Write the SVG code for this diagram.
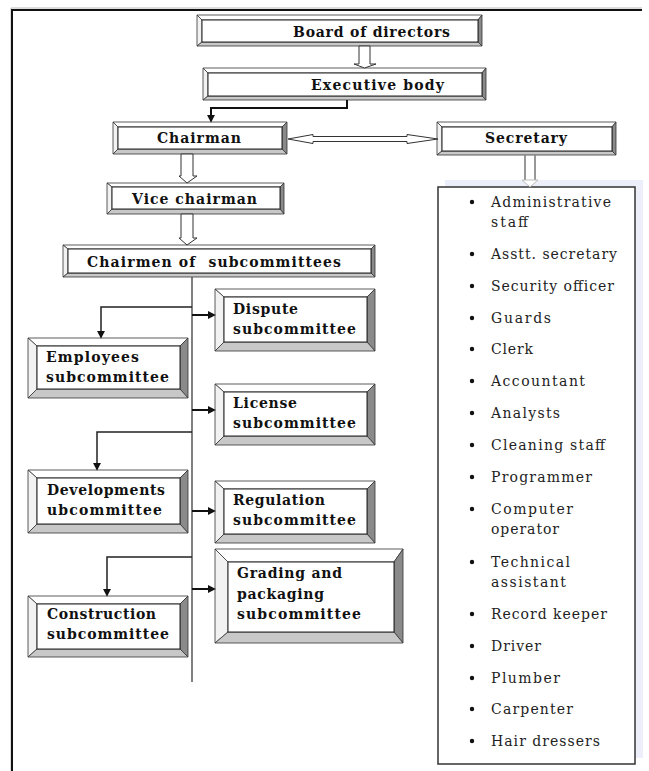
<svg xmlns="http://www.w3.org/2000/svg" width="649" height="771" viewBox="0 0 649 771">
<style>
.bt{fill:#ffffff;stroke:#333;stroke-width:0.8}
.bl{fill:#f2f2f2;stroke:#333;stroke-width:0.8}
.br{fill:#8a8a8a;stroke:#333;stroke-width:0.8}
.bb{fill:#c8c8c8;stroke:#333;stroke-width:0.8}
.in{fill:#ffffff;stroke:#222;stroke-width:1}
.bx{font-family:"DejaVu Serif","Liberation Serif",serif;font-weight:bold;font-size:14px;fill:#111}
.li{font-family:"DejaVu Serif","Liberation Serif",serif;font-size:14px;fill:#222}
.blk{fill:#fff;stroke:#333;stroke-width:1}
.cn{fill:none;stroke:#111;stroke-width:2}
.cl{fill:none;stroke:#222;stroke-width:1.5}
</style>
<defs>
<marker id="ah" markerUnits="userSpaceOnUse" markerWidth="8" markerHeight="8" viewBox="0 0 7 7" refX="1" refY="3.5" orient="auto">
<path d="M0,0 L7,3.5 L0,7 z" fill="#111"/>
</marker>
</defs>
<rect width="649" height="771" fill="#fff"/>
<path d="M11,771 V8 H642" fill="none" stroke="#bbb" stroke-width="1"/>
<path d="M12,771 V10 H642" fill="none" stroke="#111" stroke-width="2"/>

<g id="board">
<polygon class="bt" points="197,15 482,15 478,20 202,20"/><polygon class="bl" points="197,15 202,20 202,42 197,46"/><polygon class="br" points="482,15 482,46 478,42 478,20"/><polygon class="bb" points="197,46 202,42 478,42 482,46"/>
<rect class="in" x="202" y="20" width="276" height="22"/>
<text class="bx" x="293" y="37" textLength="157" lengthAdjust="spacing">Board of directors</text>
</g>
<g id="exec">
<polygon class="bt" points="203,68 486,68 482,73 208,73"/><polygon class="bl" points="203,68 208,73 208,96 203,100"/><polygon class="br" points="486,68 486,100 482,96 482,73"/><polygon class="bb" points="203,100 208,96 482,96 486,100"/>
<rect class="in" x="208" y="73" width="274" height="23"/>
<text class="bx" x="311" y="90" textLength="133" lengthAdjust="spacing">Executive body</text>
</g>
<g id="chairman">
<polygon class="bt" points="113,122 287,122 282,127 118,127"/><polygon class="bl" points="113,122 118,127 118,149 113,154"/><polygon class="br" points="287,122 287,154 282,149 282,127"/><polygon class="bb" points="113,154 118,149 282,149 287,154"/>
<rect class="in" x="118" y="127" width="164" height="22"/>
<text class="bx" x="157" y="143" textLength="84" lengthAdjust="spacing">Chairman</text>
</g>
<g id="secretary">
<polygon class="bt" points="437,122 616,122 612,127 442,127"/><polygon class="bl" points="437,122 442,127 442,151 437,155"/><polygon class="br" points="616,122 616,155 612,151 612,127"/><polygon class="bb" points="437,155 442,151 612,151 616,155"/>
<rect class="in" x="442" y="127" width="170" height="24"/>
<text class="bx" x="485" y="143" textLength="82" lengthAdjust="spacing">Secretary</text>
</g>
<g id="vice">
<polygon class="bt" points="107,183 284,183 280,187 112,187"/><polygon class="bl" points="107,183 112,187 112,209 107,214"/><polygon class="br" points="284,183 284,214 280,209 280,187"/><polygon class="bb" points="107,214 112,209 280,209 284,214"/>
<rect class="in" x="112" y="187" width="168" height="22"/>
<text class="bx" x="132" y="204" textLength="125" lengthAdjust="spacing">Vice chairman</text>
</g>
<g id="chairmen">
<polygon class="bt" points="63,245 375,245 371,249 68,249"/><polygon class="bl" points="63,245 68,249 68,273 63,277"/><polygon class="br" points="375,245 375,277 371,273 371,249"/><polygon class="bb" points="63,277 68,273 371,273 375,277"/>
<rect class="in" x="68" y="249" width="303" height="24"/>
<text class="bx" x="87" y="267" textLength="254" lengthAdjust="spacing" xml:space="preserve">Chairmen of  subcommittees</text>
</g>
<g id="dispute">
<polygon class="bt" points="215,289 375,289 367,297 224,297"/><polygon class="bl" points="215,289 224,297 224,342 215,351"/><polygon class="br" points="375,289 375,351 367,342 367,297"/><polygon class="bb" points="215,351 224,342 367,342 375,351"/>
<rect class="in" x="224" y="297" width="143" height="45"/>
<text class="bx" x="233" y="314" textLength="65" lengthAdjust="spacing">Dispute</text>
<text class="bx" x="233" y="334" textLength="123" lengthAdjust="spacing">subcommittee</text>
</g>
<g id="employees">
<polygon class="bt" points="28,338 188,338 180,346 37,346"/><polygon class="bl" points="28,338 37,346 37,389 28,398"/><polygon class="br" points="188,338 188,398 180,389 180,346"/><polygon class="bb" points="28,398 37,389 180,389 188,398"/>
<rect class="in" x="37" y="346" width="143" height="43"/>
<text class="bx" x="46" y="362" textLength="93" lengthAdjust="spacing">Employees</text>
<text class="bx" x="46" y="382" textLength="123" lengthAdjust="spacing">subcommittee</text>
</g>
<g id="license">
<polygon class="bt" points="215,384 375,384 367,392 224,392"/><polygon class="bl" points="215,384 224,392 224,436 215,445"/><polygon class="br" points="375,384 375,445 367,436 367,392"/><polygon class="bb" points="215,445 224,436 367,436 375,445"/>
<rect class="in" x="224" y="392" width="143" height="44"/>
<text class="bx" x="233" y="408" textLength="64" lengthAdjust="spacing">License</text>
<text class="bx" x="233" y="428" textLength="123" lengthAdjust="spacing">subcommittee</text>
</g>
<g id="developments">
<polygon class="bt" points="28,470 188,470 180,478 37,478"/><polygon class="bl" points="28,470 37,478 37,524 28,533"/><polygon class="br" points="188,470 188,533 180,524 180,478"/><polygon class="bb" points="28,533 37,524 180,524 188,533"/>
<rect class="in" x="37" y="478" width="143" height="46"/>
<text class="bx" x="47" y="495" textLength="118" lengthAdjust="spacing">Developments</text>
<text class="bx" x="47" y="515" textLength="115" lengthAdjust="spacing">ubcommittee</text>
</g>
<g id="regulation">
<polygon class="bt" points="215,481 375,481 367,489 224,489"/><polygon class="bl" points="215,481 224,489 224,534 215,543"/><polygon class="br" points="375,481 375,543 367,534 367,489"/><polygon class="bb" points="215,543 224,534 367,534 375,543"/>
<rect class="in" x="224" y="489" width="143" height="45"/>
<text class="bx" x="233" y="505" textLength="92" lengthAdjust="spacing">Regulation</text>
<text class="bx" x="233" y="525" textLength="123" lengthAdjust="spacing">subcommittee</text>
</g>
<g id="construction">
<polygon class="bt" points="28,596 188,596 180,604 37,604"/><polygon class="bl" points="28,596 37,604 37,649 28,657"/><polygon class="br" points="188,596 188,657 180,649 180,604"/><polygon class="bb" points="28,657 37,649 180,649 188,657"/>
<rect class="in" x="37" y="604" width="143" height="45"/>
<text class="bx" x="47" y="619" textLength="109" lengthAdjust="spacing">Construction</text>
<text class="bx" x="47" y="639" textLength="122" lengthAdjust="spacing">subcommittee</text>
</g>
<g id="grading">
<polygon class="bt" points="215,549 403,549 394,562 228,562"/><polygon class="bl" points="215,549 228,562 228,632 215,643"/><polygon class="br" points="403,549 403,643 394,632 394,562"/><polygon class="bb" points="215,643 228,632 394,632 403,643"/>
<rect class="in" x="228" y="562" width="166" height="70"/>
<text class="bx" x="237" y="578" textLength="105" lengthAdjust="spacing">Grading and</text>
<text class="bx" x="237" y="599" textLength="87" lengthAdjust="spacing">packaging</text>
<text class="bx" x="237" y="619" textLength="124" lengthAdjust="spacing">subcommittee</text>
</g>

<g id="staff-list">
<rect x="445" y="180" width="198" height="578" fill="#eceff9"/>
<rect x="438" y="187" width="197" height="577" fill="#fff" stroke="#333" stroke-width="1.5"/>
<g fill="#111">
<circle cx="472" cy="202" r="2.2"/><circle cx="472" cy="254" r="2.2"/><circle cx="472" cy="286" r="2.2"/><circle cx="472" cy="318" r="2.2"/><circle cx="472" cy="349" r="2.2"/><circle cx="472" cy="381" r="2.2"/><circle cx="472" cy="413" r="2.2"/><circle cx="472" cy="445" r="2.2"/><circle cx="472" cy="477" r="2.2"/><circle cx="472" cy="509" r="2.2"/><circle cx="472" cy="562" r="2.2"/><circle cx="472" cy="614" r="2.2"/><circle cx="472" cy="646" r="2.2"/><circle cx="472" cy="678" r="2.2"/><circle cx="472" cy="709" r="2.2"/><circle cx="472" cy="741" r="2.2"/>
</g>
<text class="li" x="491" y="207" textLength="120" lengthAdjust="spacing">Administrative</text>
<text class="li" x="491" y="227" textLength="37" lengthAdjust="spacing">staff</text>
<text class="li" x="491" y="259" textLength="126" lengthAdjust="spacing">Asstt. secretary</text>
<text class="li" x="491" y="291" textLength="123" lengthAdjust="spacing">Security officer</text>
<text class="li" x="491" y="323" textLength="60" lengthAdjust="spacing">Guards</text>
<text class="li" x="491" y="354" textLength="42" lengthAdjust="spacing">Clerk</text>
<text class="li" x="491" y="386" textLength="94" lengthAdjust="spacing">Accountant</text>
<text class="li" x="491" y="418" textLength="69" lengthAdjust="spacing">Analysts</text>
<text class="li" x="491" y="450" textLength="114" lengthAdjust="spacing">Cleaning staff</text>
<text class="li" x="491" y="482" textLength="101" lengthAdjust="spacing">Programmer</text>
<text class="li" x="491" y="514" textLength="82" lengthAdjust="spacing">Computer</text>
<text class="li" x="491" y="534" textLength="68" lengthAdjust="spacing">operator</text>
<text class="li" x="491" y="567" textLength="79" lengthAdjust="spacing">Technical</text>
<text class="li" x="491" y="587" textLength="75" lengthAdjust="spacing">assistant</text>
<text class="li" x="491" y="619" textLength="116" lengthAdjust="spacing">Record keeper</text>
<text class="li" x="491" y="651" textLength="50" lengthAdjust="spacing">Driver</text>
<text class="li" x="491" y="683" textLength="69" lengthAdjust="spacing">Plumber</text>
<text class="li" x="491" y="714" textLength="82" lengthAdjust="spacing">Carpenter</text>
<text class="li" x="491" y="746" textLength="109" lengthAdjust="spacing">Hair dressers</text>
</g>

<g id="connectors">
<polygon class="blk" points="359,46 370,46 370,64 376,64 364.5,68 354,64 359,64"/>
<polygon class="blk" points="181,154 193,154 193,176 197,176 187,183 179,176 181,176"/>
<polygon class="blk" points="181,214 193,214 193,238 197,238 187,245 179,238 181,238"/>
<polygon class="blk" points="288,139 313,134.5 313,136.5 407,136.5 407,134.5 438,139 407,143.5 407,141.5 313,141.5 313,143.5"/>
<path d="M525,155.5 V180 M535,155.5 V180" fill="none" stroke="#333" stroke-width="1"/>
<polygon points="522,180 538,180 530,187" fill="#fff" stroke="#bbb" stroke-width="1"/>
<path class="cn" d="M347,100 V108 H211 V116" marker-end="url(#ah)"/>
<path d="M192,277 V682" fill="none" stroke="#555" stroke-width="1.5"/>
<path class="cn" d="M192,315 H209" marker-end="url(#ah)"/>
<path class="cl" d="M192,307 H101 V332" marker-end="url(#ah)"/>
<path class="cn" d="M192,410 H209" marker-end="url(#ah)"/>
<path class="cl" d="M192,432 H97 V464" marker-end="url(#ah)"/>
<path class="cn" d="M192,511 H209" marker-end="url(#ah)"/>
<path class="cl" d="M192,557 H107 V590" marker-end="url(#ah)"/>
<path class="cn" d="M192,589 H209" marker-end="url(#ah)"/>
</g>
</svg>
